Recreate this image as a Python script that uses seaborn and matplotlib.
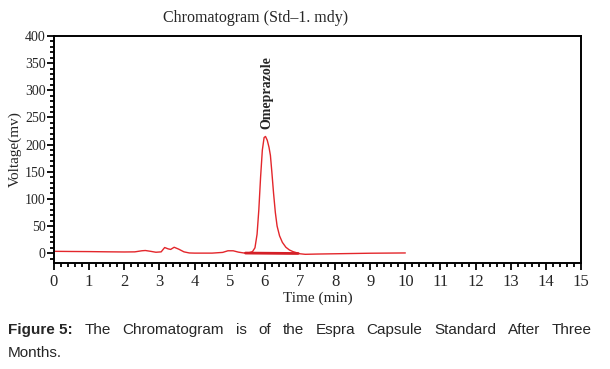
import numpy as np
import pandas as pd
import matplotlib.pyplot as plt
from matplotlib.ticker import MultipleLocator
import seaborn as sns

# ---- data ----
time_min = [0.0, 0.5, 1.0, 1.5, 2.0, 2.3, 2.5, 2.6, 2.75, 2.9, 3.05, 3.15, 3.25,
            3.32, 3.42, 3.55, 3.7, 3.85, 4.0, 4.5, 4.8, 4.95, 5.1, 5.25, 5.4,
            5.55, 5.65, 5.72, 5.78, 5.83, 5.88, 5.93, 5.98, 6.02, 6.07, 6.12,
            6.16, 6.2, 6.25, 6.3, 6.35, 6.42, 6.5, 6.6, 6.7, 6.8, 6.9, 7.0,
            7.15, 7.5, 8.0, 9.0, 10.0]
voltage_mv = [3.5, 3.2, 3.0, 2.6, 2.3, 2.5, 4.5, 5.0, 3.5, 1.8, 2.5, 10.5, 8.0,
              7.0, 11.0, 7.5, 2.5, 0.5, 0.2, 0.2, 1.5, 4.5, 4.5, 2.0, 0.5,
              0.8, 3.0, 10, 35, 80, 140, 190, 213, 215, 208, 195,
              180, 150, 110, 75, 50, 32, 20, 11, 6, 3, 1, -1,
              -2, -1.5, -1, 0, 0.5]

# integration baseline under the peak
base_time = [5.45, 6.95]
base_mv = [0.3, -0.5]

peak_name = "Omeprazole"
peak_time = 6.05

df = pd.DataFrame({"t": time_min, "v": voltage_mv})
df_base = pd.DataFrame({"t": base_time, "v": base_mv})

sns.set_style("ticks")
plt.rcParams['font.family'] = ['Liberation Serif', 'DejaVu Serif']

fig = plt.figure(figsize=(6.10, 3.69), dpi=100)
ax = fig.add_axes([54 / 610, 1 - 263 / 369, (581 - 54) / 610, (263 - 36) / 369])

red = "#e3262b"
sns.lineplot(data=df, x="t", y="v", ax=ax, color=red, linewidth=1.0, sort=False)
sns.lineplot(data=df_base, x="t", y="v", ax=ax, color="#d41f26", linewidth=2.0)

ax.set_xlim(0, 15)
ax.set_ylim(-18, 400)
ax.xaxis.set_major_locator(MultipleLocator(1))
ax.xaxis.set_minor_locator(MultipleLocator(0.2))
ax.yaxis.set_major_locator(MultipleLocator(50))
ax.yaxis.set_minor_locator(MultipleLocator(10))
ax.tick_params(axis='both', which='major', direction='out', length=5, width=1.3, color='black')
ax.tick_params(axis='both', which='minor', direction='out', length=3, width=1.3, color='black')
ax.tick_params(axis='x', labelsize=12, pad=3)
ax.tick_params(axis='y', labelsize=10, pad=1)

for s in ax.spines.values():
    s.set_color('black')
    s.set_linewidth(1.4)

ax.set_xlabel("Time (min)", fontsize=11, labelpad=1)
ax.set_ylabel("Voltage(mv)", fontsize=11, labelpad=2)

ax.text(peak_time, 228, peak_name, rotation=90, ha='center', va='bottom',
        fontsize=10, fontweight='bold')

fig.text(256 / 610, 1 - 18 / 369, "Chromatogram (Std\u20131. mdy)",
         ha='center', va='center', fontsize=11.5)

# ---- caption, first line justified ----
cap_words = ["Figure 5:", "The", "Chromatogram", "is", "of", "the", "Espra",
             "Capsule", "Standard", "After", "Three"]
cap_font = ['Liberation Sans', 'DejaVu Sans']
fig.canvas.draw()
renderer = fig.canvas.get_renderer()
texts = []
for i, w in enumerate(cap_words):
    t = fig.text(0, 1 - 330 / 369, w, ha='left', va='center', fontsize=11,
                 family=cap_font, fontweight='bold' if i == 0 else 'normal')
    texts.append(t)
widths = [t.get_window_extent(renderer).width for t in texts]
x0, x1 = 8, 592
gap = (x1 - x0 - sum(widths)) / (len(texts) - 1)
x = x0
for t, w in zip(texts, widths):
    t.set_x(x / 610)
    x += w + gap
fig.text(8 / 610, 1 - 353 / 369, "Months.", ha='left', va='center',
         fontsize=11, family=cap_font)

fig.savefig("out.png", dpi=100)
